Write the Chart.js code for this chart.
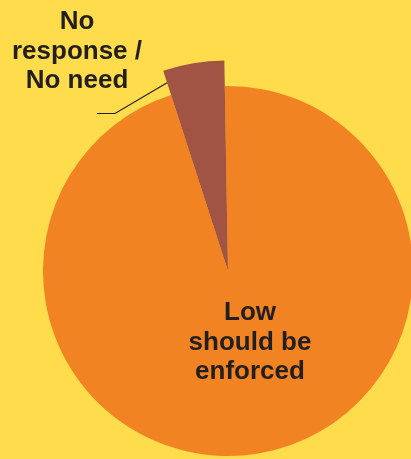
<!DOCTYPE html>
<html>
<head>
<meta charset="utf-8">
<script src="https://cdn.jsdelivr.net/npm/chart.js@4/dist/chart.umd.min.js"></script>
<style>
  html, body { margin: 0; padding: 0; background: #ffdc4b; overflow: hidden; }
  #wrap { position: absolute; left: 0; top: 0; width: 460px; height: 459px; }
</style>
</head>
<body>
<div id="wrap"><canvas id="chart" width="460" height="459"></canvas></div>
<script>
// answers, share of respondents (%)
const categories = ["Low should be enforced", "No response / No need"];
const shares = [95.3, 4.7];
const colors = ["#f28322", "#a15443"];

// wrapped label lines
const labelLines = [
  ["Low", "should be", "enforced"],
  ["No", "response /", "No need"]
];

const textColor = "#231f20";
const font = "bold 26px 'Liberation Sans', Arial, sans-serif";

// brown slice is drawn with a longer radius
const bigSlice = {
  id: "bigSlice",
  beforeDatasetsDraw(chart) {
    const arcs = chart.getDatasetMeta(0).data;
    arcs[1].outerRadius = arcs[0].outerRadius * 1.138;
  }
};

const sliceLabels = {
  id: "sliceLabels",
  afterDatasetsDraw(chart) {
    const ctx = chart.ctx;
    const arcs = chart.getDatasetMeta(0).data;
    const cx = arcs[0].x, cy = arcs[0].y;
    ctx.save();
    ctx.font = font;
    ctx.fillStyle = textColor;
    ctx.textAlign = "center";
    ctx.textBaseline = "alphabetic";

    // inside label for the big slice
    labelLines[0].forEach((t, i) => ctx.fillText(t, cx + 22, cy + 49 + i * 29.5));

    // outside label for the small slice
    labelLines[1].forEach((t, i) => ctx.fillText(t, 77, 29 + i * 29.5));

    // leader line
    const a = arcs[1].startAngle;
    const r = arcs[1].outerRadius * 0.94;
    ctx.strokeStyle = textColor;
    ctx.lineWidth = 1.2;
    ctx.beginPath();
    ctx.moveTo(97, 113.5);
    ctx.lineTo(115, 113.5);
    ctx.lineTo(cx + Math.cos(a) * r, cy + Math.sin(a) * r);
    ctx.stroke();
    ctx.restore();
  }
};

new Chart(document.getElementById("chart"), {
  type: "pie",
  data: {
    labels: categories,
    datasets: [{
      data: shares,
      backgroundColor: colors,
      borderWidth: 0
    }]
  },
  options: {
    responsive: false,
    animation: false,
    rotation: -1,
    layout: { padding: { left: 43, top: 86, right: 47, bottom: 3 } },
    plugins: {
      legend: { display: false },
      tooltip: { enabled: false }
    }
  },
  plugins: [bigSlice, sliceLabels]
});
</script>
</body>
</html>
